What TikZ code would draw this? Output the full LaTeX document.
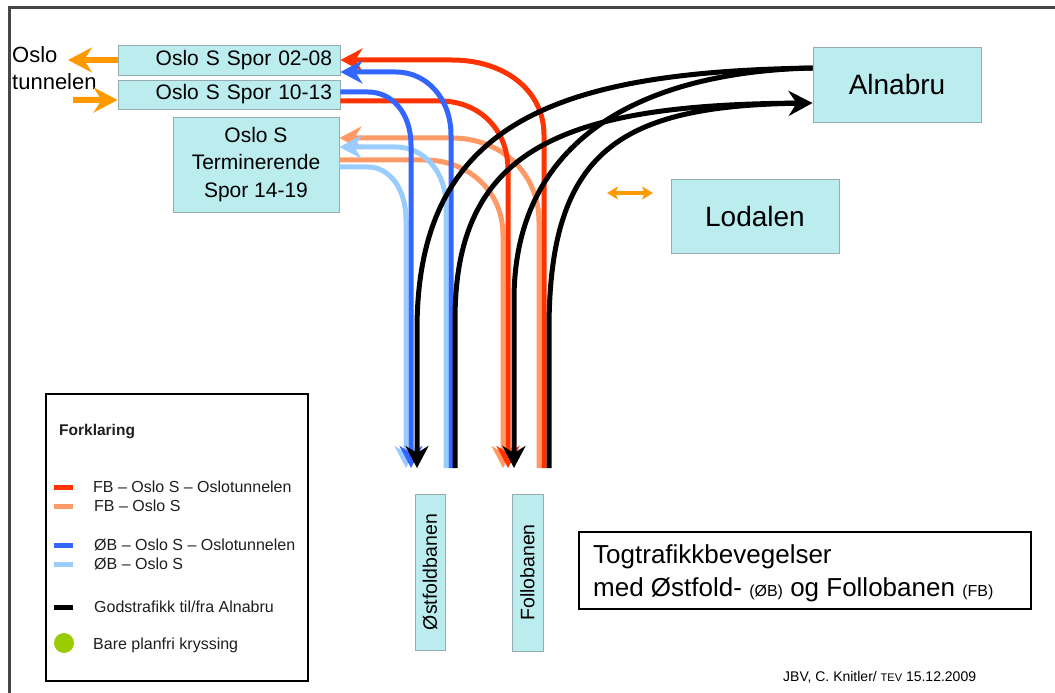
\documentclass[tikz,border=0pt]{standalone}
\usepackage{fontspec}
\setmainfont{Liberation Sans}
\usetikzlibrary{arrows.meta}
\definecolor{cred}{RGB}{255,51,0}
\definecolor{corange}{RGB}{255,153,102}
\definecolor{cblue}{RGB}{51,102,255}
\definecolor{clblue}{RGB}{153,204,255}
\definecolor{cyel}{RGB}{255,153,0}
\definecolor{cgreen}{RGB}{153,204,0}
\definecolor{boxfill}{RGB}{187,236,238}
\definecolor{boxedge}{RGB}{150,172,178}
\definecolor{framecol}{RGB}{70,70,70}
\definecolor{legtxt}{RGB}{30,30,30}
\newcommand{\myfs}[2]{\fontsize{#1bp}{#2bp}\selectfont}
\begin{document}
\begin{tikzpicture}[x=1bp,y=-1bp,
  station/.style={fill=boxfill, draw=boxedge, line width=0.8bp, inner sep=0pt, text=black},
  route/.style={line width=5bp},
  tipc/.style={-{Stealth[length=22bp,width=23bp,inset=7bp]}},
  tipo/.style={-{Stealth[length=24bp,width=25bp,inset=8bp]}},
  legtext/.style={anchor=west, inner sep=0pt, text=legtxt, font=\myfs{16}{18}},
  legline/.style={line width=5bp}]
\useasboundingbox (0,0) rectangle (1055,693);
% frame
\draw[framecol, line width=2.2bp] (1055,7.5) -- (9.5,7.5) -- (9.5,693);

% stations
\node[station, minimum height=30bp, text width=206bp, inner xsep=8bp, align=right, font=\myfs{21}{24}] (s0208) at (229,60) {Oslo S Spor 02-08};
\node[station, minimum height=29bp, text width=206bp, inner xsep=8bp, align=right, font=\myfs{21}{24}] (s1013) at (229,94.5) {Oslo S Spor 10-13};
\node[station, minimum width=166bp, minimum height=95bp, align=center, font=\myfs{21}{27.5}] (sterm) at (256,164.5) {Oslo S\\Terminerende\\Spor 14-19};
\node[station, minimum width=168bp, minimum height=75bp, font=\myfs{28}{30}] (alnabru) at (897,84.5) {Alnabru};
\node[station, minimum width=168bp, minimum height=74bp, font=\myfs{28}{30}] (lodalen) at (755,216) {Lodalen};
\node[station, minimum width=30bp, minimum height=156bp, font=\myfs{19.5}{21}] (ostf) at (430,572) {\rotatebox{90}{Østfoldbanen}};
\node[station, minimum width=31bp, minimum height=157bp, font=\myfs{19.5}{21}] (follo) at (527.5,572.5) {\rotatebox{90}{Follobanen}};

% Oslo tunnelen
\node[anchor=west, inner sep=0pt, align=left, font=\myfs{22}{27}] (otun) at (12,68.5) {Oslo\\tunnelen};
\coordinate (otun1) at (68,60);
\coordinate (otun2) at (73,100);
\draw[cyel, line width=6bp, tipo] (s0208.west) -- (otun1);
\draw[cyel, line width=6bp, tipo] (otun2) -- ([yshift=-5.5bp]s1013.west);

% Lodalen double arrow
\coordinate (ld1) at (607,193);
\coordinate (ld2) at (653,193);
\draw[cyel, line width=3.5bp, {Stealth[length=11bp,width=13bp,inset=3bp]}-{Stealth[length=11bp,width=13bp,inset=3bp]}] (ld1) -- (ld2);

% bottom ends
\coordinate (lb1e) at (406,468);
\coordinate (b1e) at (411,468);
\coordinate (kAe) at (417,468);
\coordinate (lb2e) at (446,468);
\coordinate (b2e) at (451,468);
\coordinate (kBe) at (455,468);
\coordinate (o1e) at (503,468);
\coordinate (r1e) at (508,468);
\coordinate (kCe) at (514,468);
\coordinate (o2e) at (539,468);
\coordinate (r2e) at (544,468);
\coordinate (kDe) at (549,468);

% Follobanen routes
\draw[route, corange, tipc] (o2e) -- (539,222) .. controls (539,172) and (500,138) .. (452,138) -- ([yshift=26.5bp]sterm.east);
\draw[route, corange, tipc] ([yshift=4.5bp]sterm.east) -- (425,160) .. controls (467,160) and (503,190) .. (503,235) -- (o1e);
\draw[route, cred, tipc] (r2e) -- (544,135) .. controls (544,90) and (504,60) .. (452,60) -- (s0208.east);
\draw[route, cred, tipc] ([yshift=-6.5bp]s1013.east) -- (440,101) .. controls (478,101) and (508,128) .. (508,170) -- (r1e);

% Ostfoldbanen routes
\draw[route, clblue, tipc] (lb2e) -- (446,205) .. controls (446,172) and (424,147) .. (396,147) -- ([yshift=17.5bp]sterm.east);
\draw[route, clblue, tipc] ([yshift=-2.5bp]sterm.east) -- (368,167) .. controls (389,167) and (406,188) .. (406,220) -- (lb1e);
\draw[route, cblue, tipc] (b2e) -- (451,135) .. controls (451,99) and (427,72) .. (396,72) -- ([yshift=-12bp]s0208.east);
\draw[route, cblue, tipc] ([yshift=2.5bp]s1013.east) -- (368,92) .. controls (392,92) and (411,113) .. (411,145) -- (b1e);

% freight to/from Alnabru
\draw[route, black, tipc] ([yshift=16.5bp]alnabru.west) .. controls (560,72) and (417,120) .. (417,330) -- (kAe);
\draw[route, black, tipc] ([yshift=16.5bp]alnabru.west) .. controls (640,72) and (514,140) .. (514,300) -- (kCe);
\draw[route, black, shorten >=18bp] (kBe) -- (455,320) .. controls (455,150) and (560,105) .. ([yshift=-18.5bp]alnabru.west);
\draw[route, black, -{Stealth[length=24bp,width=25bp,inset=8bp]}] (kDe) -- (549,330) .. controls (549,150) and (620,106) .. ([yshift=-18.5bp]alnabru.west);

% legend
\node[draw=black, line width=1.2bp, minimum width=262bp, minimum height=287bp, inner sep=0pt] (legend) at (177,537.5) {};
\node[anchor=west, inner sep=0pt, text=legtxt, font=\myfs{15.5}{18}\bfseries] (legtitle) at (59,432) {Forklaring};
\draw[legline, cred] (54,487) -- (73,487);
\draw[legline, corange] (54,506) -- (73,506);
\draw[legline, cblue] (54,545) -- (73,545);
\draw[legline, clblue] (54,564) -- (73,564);
\draw[legline, black] (54,607) -- (73,607);
\fill[cgreen] (64,643) circle (10bp);
\node[legtext] (l1) at (93,487) {FB – Oslo S – Oslotunnelen};
\node[legtext] (l2) at (94,506) {FB – Oslo S};
\node[legtext] (l3) at (94,545) {ØB – Oslo S – Oslotunnelen};
\node[legtext] (l4) at (94,564) {ØB – Oslo S};
\node[legtext] (l5) at (94,607) {Godstrafikk til/fra Alnabru};
\node[legtext] (l6) at (93,645) {Bare planfri kryssing};

% title box
\node[draw=black, line width=1.5bp, minimum width=452bp, minimum height=77bp, inner sep=0pt] (title) at (805,570.5) {};
\node[anchor=west, inner sep=0pt, align=left, font=\myfs{26}{33}] (titletext) at (593,573.5) {Togtrafikkbevegelser\\med Østfold- {\myfs{16}{33}(ØB)} og Follobanen {\myfs{16}{33}(FB)}};

% credit
\node[anchor=west, inner sep=0pt, font=\myfs{14}{15}] (credit) at (783,677) {JBV, C. Knitler/ {\myfs{11}{15}TEV} 15.12.2009};
\end{tikzpicture}
\end{document}
